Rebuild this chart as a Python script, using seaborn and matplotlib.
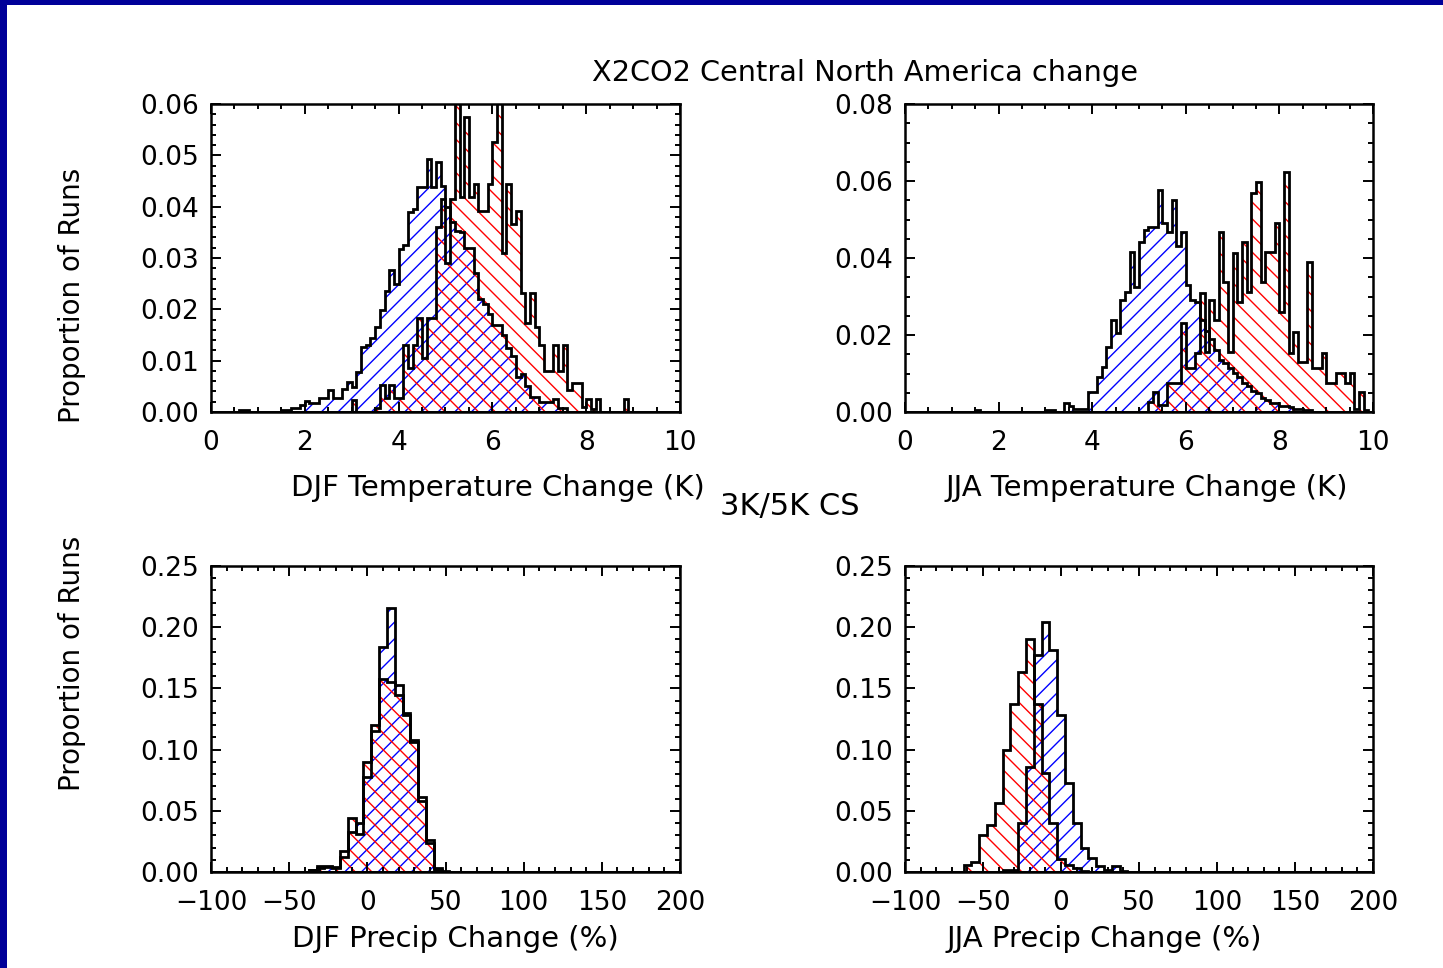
import numpy as np
import pandas as pd
import matplotlib
matplotlib.use("Agg")
import matplotlib.pyplot as plt
from matplotlib.patches import Rectangle
from matplotlib.ticker import MultipleLocator, FormatStrFormatter
import seaborn as sns

plt.rcParams['font.family'] = ['DejaVu Sans']
plt.rcParams['hatch.linewidth'] = 1.0

# ---------------- data (proportion of runs per bin) ----------------
# temperature bins: 0.1 K wide, value list starts at the given left edge
djf_t_3k_first = 0.6
djf_t_3k = [0.0004, 0.0004, 0, 0, 0, 0, 0, 0, 0, 0.0004, 0.0004, 0.0008, 0.0008, 0.0013,
            0.0022, 0.0017, 0.0017, 0.0027, 0.0027, 0.0042, 0.0027, 0.0027, 0.0045, 0.0058,
            0.0049, 0.0078, 0.0127, 0.0130, 0.0144, 0.0166, 0.0199, 0.0235, 0.0277, 0.0250,
            0.0317, 0.0326, 0.0389, 0.0395, 0.0438, 0.0438, 0.0493, 0.0438, 0.0487, 0.0440,
            0.0400, 0.0370, 0.0353, 0.0350, 0.0320, 0.0320, 0.0270, 0.0220, 0.0210, 0.0190,
            0.0170, 0.0170, 0.0150, 0.0125, 0.0110, 0.0068, 0.0075, 0.0050, 0.0030, 0.0030,
            0.0020, 0.0020, 0.0020, 0.0025, 0.0008, 0.0008]
djf_t_5k_first = 3.0
djf_t_5k = [0.0023, 0, 0, 0, 0, 0.0008, 0.0052, 0.0027, 0.0052, 0.0027, 0.0027, 0.0130,
            0.0085, 0.0130, 0.0183, 0.0105, 0.0183, 0.0183, 0.0360, 0.0415, 0.0290, 0.0415,
            0.0620, 0.0418, 0.0575, 0.0418, 0.0444, 0.0392, 0.0392, 0.0444, 0.0526, 0.0620,
            0.0310, 0.0444, 0.0366, 0.0392, 0.0232, 0.0173, 0.0232, 0.0165, 0.0130, 0.0080,
            0.0080, 0.0130, 0.0080, 0.0130, 0.0042, 0.0056, 0.0056, 0.0010, 0.0026, 0.0005,
            0.0026, 0, 0, 0, 0, 0, 0.0026]
jja_t_3k_first = 1.5
jja_t_3k = [0.0005] + [0] * 14 + [0.0005, 0.0005, 0, 0, 0.0023, 0.0015, 0.0008, 0.0008, 0.0008,
            0.0053, 0.0053, 0.0092, 0.0118, 0.0170, 0.0239, 0.0205, 0.0290, 0.0312, 0.0416,
            0.0325, 0.0442, 0.0473, 0.0480, 0.0480, 0.0577, 0.0490, 0.0468, 0.0550, 0.0430,
            0.0468, 0.0330, 0.0290, 0.0287, 0.0240, 0.0210, 0.0190, 0.0160, 0.0135, 0.0127,
            0.0115, 0.0101, 0.0090, 0.0075, 0.0068, 0.0054, 0.0050, 0.0037, 0.0032, 0.0024,
            0.0024, 0.0015, 0.0015, 0.0012, 0.0008, 0.0008, 0.0005, 0.0005]
jja_t_5k_first = 5.2
jja_t_5k = [0.0027, 0.0053, 0.0018, 0.0018, 0.0075, 0.0075, 0.0075, 0.0231, 0.0114, 0.0114,
            0.0153, 0.0308, 0.0157, 0.0291, 0.0239, 0.0468, 0.0338, 0.0157, 0.0412, 0.0286,
            0.0442, 0.0312, 0.0568, 0.0598, 0.0338, 0.0416, 0.0416, 0.0490, 0.0260, 0.0624,
            0.0153, 0.0209, 0.0131, 0.0131, 0.0390, 0.0114, 0.0114, 0.0153, 0.0075, 0.0075,
            0.0101, 0.0101, 0.0075, 0.0101, 0.0008, 0.0053, 0.0005]

# precipitation bins: 5 % wide, value list starts at the given bin centre
djf_p_3k_first = -35
djf_p_3k = [0.002, 0.003, 0.004, 0.003, 0.012, 0.033, 0.040, 0.078, 0.115, 0.184, 0.216,
            0.153, 0.130, 0.106, 0.058, 0.024, 0.003, 0.001]
djf_p_5k_first = -35
djf_p_5k = [0.002, 0.005, 0.005, 0.004, 0.0174, 0.044, 0.031, 0.090, 0.120, 0.158, 0.155,
            0.145, 0.128, 0.108, 0.0615, 0.026, 0.002]
jja_p_3k_first = -35
jja_p_3k = [0.002, 0.002, 0.040, 0.086, 0.177, 0.2045, 0.1814, 0.128, 0.0727, 0.040, 0.0196,
            0.0114, 0.0046, 0.002, 0.0046, 0.001]
jja_p_5k_first = -60
jja_p_5k = [0.0057, 0.008, 0.030, 0.0384, 0.056, 0.100, 0.137, 0.163, 0.190, 0.137, 0.081,
            0.040, 0.011, 0.006, 0.003, 0.001]

title = "X2CO2 Central North America change"
legend_text = "3K/5K CS"
ylab = "Proportion of Runs"

TEMP_W = 0.1
PREC_W = 5.0
temp_edges = [round(v, 3) for v in np.arange(0.0, 10.0 + TEMP_W / 2, TEMP_W)]
prec_edges = [float(v) for v in np.arange(-102.5, 202.5 + 0.1, PREC_W)]


def temp_frame(first, vals):
    return pd.DataFrame({'x': first + TEMP_W * (np.arange(len(vals)) + 0.5),
                         'w': np.asarray(vals, dtype=float)})


def prec_frame(first, vals):
    return pd.DataFrame({'x': first + PREC_W * np.arange(len(vals), dtype=float),
                         'w': np.asarray(vals, dtype=float)})


# ---------------- figure ----------------
W, H = 1443, 968
fig = plt.figure(figsize=(W / 100, H / 100), dpi=100)
fig.patch.set_facecolor('white')
fig.add_artist(Rectangle((0, 1 - 5 / H), 1, 5 / H, transform=fig.transFigure,
                         facecolor='#000099', edgecolor='none'))
fig.add_artist(Rectangle((0, 0), 7 / W, 1, transform=fig.transFigure,
                         facecolor='#000099', edgecolor='none'))


def add_ax(x0, y0, x1, y1):
    return fig.add_axes([x0 / W, 1 - y1 / H, (x1 - x0) / W, (y1 - y0) / H])


ax1 = add_ax(211, 104, 680, 412)
ax2 = add_ax(905, 104, 1373, 412)
ax3 = add_ax(211, 566, 680, 872)
ax4 = add_ax(905, 566, 1373, 872)

FS = 19      # tick labels
FS_LAB = 21  # axis labels


def draw(ax, series, edges):
    # hatched fills
    for df, col, hat in series:
        sns.histplot(data=df, x='x', weights='w', bins=edges, element='step',
                     fill=True, ax=ax)
        c = ax.collections[-1]
        c.set_facecolor('none')
        c.set_edgecolor(col)
        c.set_hatch(hat)
        c.set_linewidth(0)
    # black outlines
    for df, col, hat in series:
        sns.histplot(data=df, x='x', weights='w', bins=edges, element='step',
                     fill=True, ax=ax)
        c = ax.collections[-1]
        c.set_facecolor('none')
        c.set_edgecolor('black')
        c.set_linewidth(2.0)
        c.set_joinstyle('miter')


draw(ax1, [(temp_frame(djf_t_3k_first, djf_t_3k), 'blue', '//'),
           (temp_frame(djf_t_5k_first, djf_t_5k), 'red', '\\\\')], temp_edges)
draw(ax2, [(temp_frame(jja_t_3k_first, jja_t_3k), 'blue', '//'),
           (temp_frame(jja_t_5k_first, jja_t_5k), 'red', '\\\\')], temp_edges)
draw(ax3, [(prec_frame(djf_p_3k_first, djf_p_3k), 'blue', '//'),
           (prec_frame(djf_p_5k_first, djf_p_5k), 'red', '\\\\')], prec_edges)
draw(ax4, [(prec_frame(jja_p_3k_first, jja_p_3k), 'blue', '//'),
           (prec_frame(jja_p_5k_first, jja_p_5k), 'red', '\\\\')], prec_edges)

for ax in (ax1, ax2, ax3, ax4):
    ax.set_xlabel('')
    ax.set_ylabel('')
    for s in ax.spines.values():
        s.set_linewidth(1.8)
        s.set_color('black')
    ax.tick_params(which='both', direction='in', top=True, right=True, width=1.4,
                   labelsize=FS, color='black')
    ax.tick_params(which='major', length=7)
    ax.tick_params(which='minor', length=3.5)
    ax.tick_params(axis='x', which='both', pad=13)
    ax.tick_params(axis='y', which='both', pad=9)

for ax, ymax, ymaj, ymin in ((ax1, 0.06, 0.01, 0.002), (ax2, 0.08, 0.02, 0.005)):
    ax.set_xlim(0, 10)
    ax.set_ylim(0, ymax)
    ax.xaxis.set_major_locator(MultipleLocator(2))
    ax.xaxis.set_minor_locator(MultipleLocator(0.5))
    ax.xaxis.set_major_formatter(FormatStrFormatter('%d'))
    ax.yaxis.set_major_locator(MultipleLocator(ymaj))
    ax.yaxis.set_minor_locator(MultipleLocator(ymin))
    ax.yaxis.set_major_formatter(FormatStrFormatter('%.2f'))

for ax in (ax3, ax4):
    ax.set_xlim(-100, 200)
    ax.set_ylim(0, 0.25)
    ax.xaxis.set_major_locator(MultipleLocator(50))
    ax.xaxis.set_minor_locator(MultipleLocator(10))
    ax.yaxis.set_major_locator(MultipleLocator(0.05))
    ax.yaxis.set_minor_locator(MultipleLocator(0.01))
    ax.yaxis.set_major_formatter(FormatStrFormatter('%.2f'))

ax1.set_xlabel("DJF Temperature Change (K)", fontsize=FS_LAB)
ax2.set_xlabel("JJA Temperature Change (K)", fontsize=FS_LAB)
ax3.set_xlabel("DJF Precip Change (%)", fontsize=FS_LAB)
ax4.set_xlabel("JJA Precip Change (%)", fontsize=FS_LAB)
ax1.xaxis.set_label_coords((498 - 211) / 469, (412 - 474) / 308)
ax2.xaxis.set_label_coords((1147 - 905) / 468, (412 - 474) / 308)
ax3.xaxis.set_label_coords((455 - 211) / 469, (872 - 925) / 306)
ax4.xaxis.set_label_coords((1104 - 905) / 468, (872 - 925) / 306)

ax1.set_ylabel(ylab, fontsize=20)
ax3.set_ylabel(ylab, fontsize=20)
ax1.yaxis.set_label_coords((86 - 211) / 469, (412 - 295) / 308)
ax3.yaxis.set_label_coords((86 - 211) / 469, (872 - 663) / 306)

fig.text(865 / W, 1 - 73 / H, title, fontsize=20.7, ha='center', va='center')
fig.text(790 / W, 1 - 506 / H, legend_text, fontsize=22, ha='center', va='center')

fig.savefig('out.png', dpi=100, facecolor='white')
